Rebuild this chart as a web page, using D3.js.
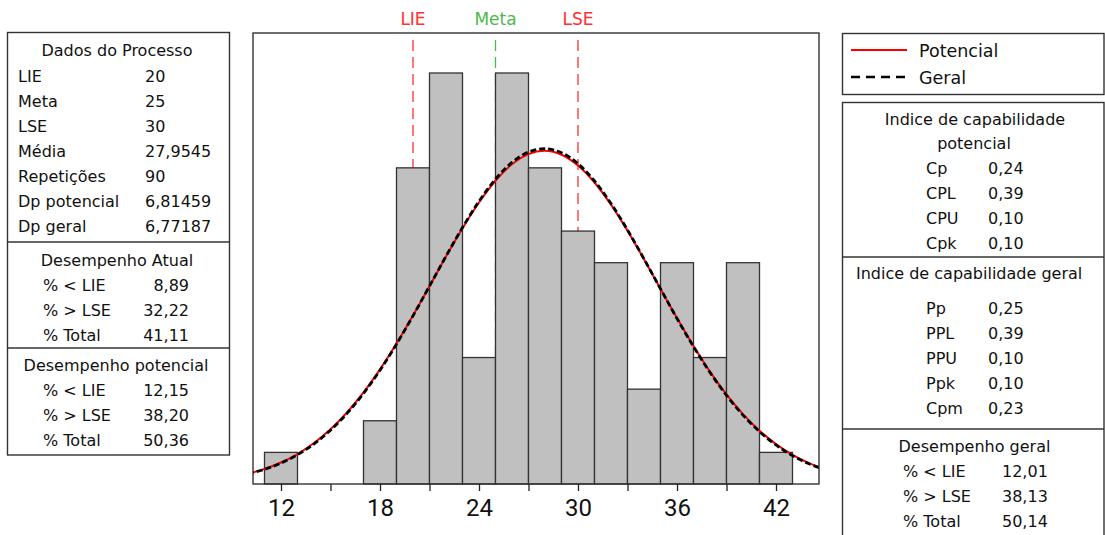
<!DOCTYPE html>
<html>
<head>
<meta charset="utf-8">
<script src="https://cdn.jsdelivr.net/npm/d3@7"></script>
<style>
  html, body { margin: 0; padding: 0; background: #fff; }
  svg { display: block; }
  text { font-family: "DejaVu Sans", sans-serif; fill: #111; }
</style>
</head>
<body>
<svg id="chart" width="1105" height="535"></svg>
<script>
// ---------------- data ----------------
const binStarts = [11, 13, 15, 17, 19, 21, 23, 25, 27, 29, 31, 33, 35, 37, 39, 41];
const binWidth = 2;
const counts = [1, 0, 0, 2, 10, 13, 4, 13, 10, 8, 7, 3, 7, 4, 7, 1];

const curveX = [10, 11, 12, 13, 14, 15, 16, 17, 18, 19, 20, 21, 22, 23, 24, 25, 26, 27,
                28, 29, 30, 31, 32, 33, 34, 35, 36, 37, 38, 39, 40, 41, 42, 43, 44, 45];
const potencialY = [0.328, 0.477, 0.680, 0.948, 1.295, 1.730, 2.262, 2.895, 3.626, 4.444,
                    5.331, 6.260, 7.194, 8.090, 8.904, 9.592, 10.112, 10.434, 10.537, 10.414,
                    10.073, 9.536, 8.835, 8.011, 7.109, 6.175, 5.249, 4.366, 3.555, 2.833,
                    2.209, 1.686, 1.260, 0.921, 0.659, 0.462];
const geralY = [0.316, 0.462, 0.661, 0.926, 1.269, 1.702, 2.232, 2.866, 3.600, 4.424,
                5.319, 6.259, 7.205, 8.114, 8.942, 9.641, 10.171, 10.499, 10.604, 10.478,
                10.131, 9.584, 8.871, 8.034, 7.119, 6.172, 5.235, 4.345, 3.529, 2.804,
                2.180, 1.658, 1.234, 0.898, 0.640, 0.446];

const specNames = ["LIE", "Meta", "LSE"];
const specValues = [20, 25, 30];
const specColors = ["#ff3030", "#4cb84c", "#ff3030"];

const xTicks = [12, 18, 24, 30, 36, 42];
const xMinorTicks = [15, 21, 27, 33, 39];

const processTitle = "Dados do Processo";
const processLabels = ["LIE", "Meta", "LSE", "Média", "Repetições", "Dp potencial", "Dp geral"];
const processValues = ["20", "25", "30", "27,9545", "90", "6,81459", "6,77187"];

const perfLabels = ["% < LIE", "% > LSE", "% Total"];
const atualTitle = "Desempenho Atual";
const atualValues = ["8,89", "32,22", "41,11"];
const potPerfTitle = "Desempenho potencial";
const potPerfValues = ["12,15", "38,20", "50,36"];

const legendNames = ["Potencial", "Geral"];

const capPotTitle = ["Indice de capabilidade", "potencial"];
const capPotLabels = ["Cp", "CPL", "CPU", "Cpk"];
const capPotValues = ["0,24", "0,39", "0,10", "0,10"];

const capGerTitle = "Indice de capabilidade geral";
const capGerLabels = ["Pp", "PPL", "PPU", "Ppk", "Cpm"];
const capGerValues = ["0,25", "0,39", "0,10", "0,10", "0,23"];

const gerPerfTitle = "Desempenho geral";
const gerPerfValues = ["12,01", "38,13", "50,14"];

// ---------------- layout ----------------
const svg = d3.select("#chart");
const plot = { left: 253, right: 819, top: 33, bottom: 484 };

const x = d3.scaleLinear().domain([10.303, 44.606]).range([plot.left, plot.right]);
const y = d3.scaleLinear().domain([0, 14.265]).range([plot.bottom, plot.top]);

svg.append("defs").append("clipPath").attr("id", "plotClip")
  .append("rect")
  .attr("x", plot.left).attr("y", plot.top)
  .attr("width", plot.right - plot.left).attr("height", plot.bottom - plot.top);

// spec lines (behind bars)
const specG = svg.append("g");
specNames.forEach((n, i) => {
  specG.append("line")
    .attr("x1", x(specValues[i])).attr("x2", x(specValues[i]))
    .attr("y1", 40).attr("y2", plot.bottom)
    .attr("stroke", specColors[i]).attr("stroke-width", 1.3)
    .attr("stroke-dasharray", "11,6");
  svg.append("text")
    .attr("x", x(specValues[i])).attr("y", 25)
    .attr("text-anchor", "middle")
    .style("font-size", "17px")
    .style("fill", specColors[i])
    .text(n);
});

// bars
const barData = binStarts.map((s, i) => ({ s, c: counts[i] })).filter(d => d.c > 0);
svg.append("g").selectAll("rect")
  .data(barData)
  .join("rect")
  .attr("x", d => x(d.s))
  .attr("width", d => x(d.s + binWidth) - x(d.s))
  .attr("y", d => y(d.c))
  .attr("height", d => y(0) - y(d.c))
  .attr("fill", "#c0c0c0")
  .attr("stroke", "#333")
  .attr("stroke-width", 1.3);

// curves
const line = d3.line().x(d => x(d[0])).y(d => y(d[1])).curve(d3.curveCatmullRom);
const curveG = svg.append("g").attr("clip-path", "url(#plotClip)");
curveG.append("path")
  .attr("d", line(curveX.map((v, i) => [v, potencialY[i]])))
  .attr("fill", "none").attr("stroke", "#ff0000").attr("stroke-width", 2);
curveG.append("path")
  .attr("d", line(curveX.map((v, i) => [v, geralY[i]])))
  .attr("fill", "none").attr("stroke", "#000").attr("stroke-width", 2.8)
  .attr("stroke-dasharray", "6,3");

// frame
svg.append("rect")
  .attr("x", plot.left).attr("y", plot.top)
  .attr("width", plot.right - plot.left).attr("height", plot.bottom - plot.top)
  .attr("fill", "none").attr("stroke", "#333").attr("stroke-width", 1.4);

// x axis
const axis = d3.axisBottom(x).tickValues(xTicks).tickSize(7).tickPadding(8).tickFormat(d3.format("d"));
const axG = svg.append("g").attr("transform", `translate(0,${plot.bottom})`).call(axis);
axG.select(".domain").remove();
axG.selectAll(".tick line").attr("stroke", "#222").attr("stroke-width", 1.3);
axG.selectAll(".tick text").style("font-family", "Roboto, 'DejaVu Sans', sans-serif")
  .style("font-size", "24px").style("fill", "#111");
const minorAxis = d3.axisBottom(x).tickValues(xMinorTicks).tickSize(7).tickFormat("");
const mG = svg.append("g").attr("transform", `translate(0,${plot.bottom})`).call(minorAxis);
mG.select(".domain").remove();
mG.selectAll(".tick line").attr("stroke", "#222").attr("stroke-width", 1.3);

// ---------------- side panels ----------------
const fs = "16px";
function box(x0, y0, x1, y1) {
  svg.append("rect").attr("x", x0).attr("y", y0).attr("width", x1 - x0).attr("height", y1 - y0)
    .attr("fill", "none").attr("stroke", "#333").attr("stroke-width", 1.4);
}
function hline(x0, x1, yy) {
  svg.append("line").attr("x1", x0).attr("x2", x1).attr("y1", yy).attr("y2", yy)
    .attr("stroke", "#333").attr("stroke-width", 1.4);
}
function txt(t, xx, yy, anchor) {
  svg.append("text").attr("x", xx).attr("y", yy)
    .attr("text-anchor", anchor || "start").style("font-size", fs).text(t);
}

// left panel
box(7.5, 32.5, 229.5, 455);
hline(7.5, 229.5, 242);
hline(7.5, 229.5, 348);
const rowH = 25.1;
txt(processTitle, 117, 55.5, "middle");
processLabels.forEach((l, i) => {
  txt(l, 18, 81.5 + i * rowH);
  txt(processValues[i], 145, 81.5 + i * rowH);
});
txt(atualTitle, 117, 265.5, "middle");
perfLabels.forEach((l, i) => {
  txt(l, 43, 290.5 + i * rowH);
  txt(atualValues[i], 189, 290.5 + i * rowH, "end");
});
txt(potPerfTitle, 116, 370.5, "middle");
perfLabels.forEach((l, i) => {
  txt(l, 43, 395.5 + i * rowH);
  txt(potPerfValues[i], 189, 395.5 + i * rowH, "end");
});

// legend
box(842.5, 33.5, 1104, 94.5);
svg.append("line").attr("x1", 851).attr("x2", 907).attr("y1", 50).attr("y2", 50)
  .attr("stroke", "#ff0000").attr("stroke-width", 2);
svg.append("line").attr("x1", 851).attr("x2", 907).attr("y1", 77).attr("y2", 77)
  .attr("stroke", "#000").attr("stroke-width", 2.6).attr("stroke-dasharray", "9,6");
legendNames.forEach((n, i) => {
  svg.append("text").attr("x", 919).attr("y", 56.5 + i * 27)
    .style("font-size", "17.5px").text(n);
});

// right panel
box(842.5, 102.5, 1104, 560);
hline(842.5, 1104, 257);
hline(842.5, 1104, 429);
txt(capPotTitle[0], 975, 124.5, "middle");
txt(capPotTitle[1], 974, 149, "middle");
capPotLabels.forEach((l, i) => {
  txt(l, 926, 174 + i * rowH);
  txt(capPotValues[i], 988, 174 + i * rowH);
});
txt(capGerTitle, 856, 279);
capGerLabels.forEach((l, i) => {
  txt(l, 926, 313.5 + i * rowH);
  txt(capGerValues[i], 988, 313.5 + i * rowH);
});
txt(gerPerfTitle, 974.5, 451.5, "middle");
perfLabels.forEach((l, i) => {
  txt(l, 903, 476.5 + i * rowH);
  txt(gerPerfValues[i], 1002, 476.5 + i * rowH);
});
</script>
</body>
</html>
